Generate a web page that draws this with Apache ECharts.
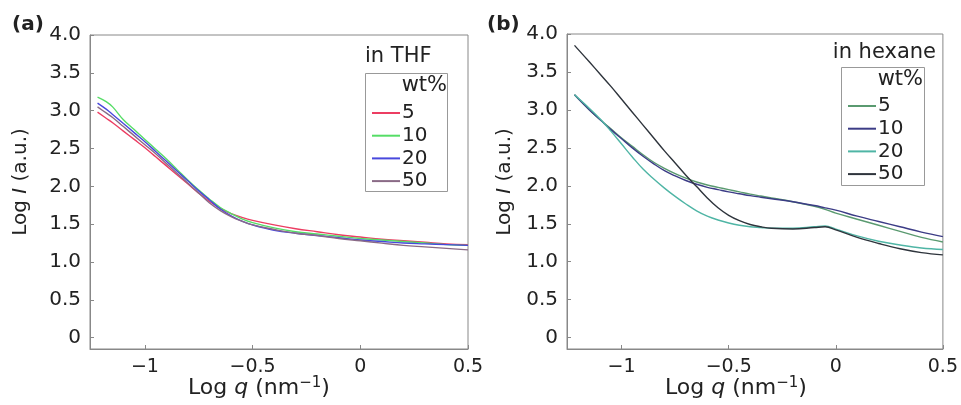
<!DOCTYPE html>
<html>
<head>
<meta charset="utf-8">
<script src="https://cdn.jsdelivr.net/npm/echarts@6/dist/echarts.min.js"></script>
<style>html,body{margin:0;padding:0;background:#fff;}#c{width:961px;height:405px;}</style>
</head>
<body>
<div id="c"></div>
<script>
// ---------- data ----------
const wtLabels = ['5', '10', '20', '50'];
const yTicks = [0, 0.5, 1, 1.5, 2, 2.5, 3, 3.5, 4];
const xTicks = [-1, -0.5, 0, 0.5];

// panel (a): in THF
const xTHF = [-1.22,-1.18,-1.15,-1.1,-1.05,-1.0,-0.95,-0.9,-0.85,-0.8,-0.75,-0.7,-0.65,-0.6,-0.55,-0.5,-0.4,-0.3,-0.2,-0.1,0,0.1,0.2,0.3,0.4,0.5];
const thf5  = [2.98,2.9,2.84,2.73,2.62,2.51,2.39,2.27,2.15,2.03,1.91,1.8,1.71,1.64,1.59,1.55,1.49,1.44,1.4,1.36,1.33,1.3,1.28,1.26,1.24,1.23];
const thf10 = [3.18,3.12,3.05,2.88,2.75,2.62,2.49,2.36,2.22,2.08,1.95,1.83,1.72,1.64,1.57,1.52,1.45,1.4,1.37,1.34,1.31,1.29,1.27,1.25,1.23,1.22];
const thf20 = [3.1,3.02,2.95,2.83,2.71,2.59,2.46,2.33,2.2,2.07,1.94,1.82,1.7,1.61,1.54,1.49,1.42,1.38,1.35,1.32,1.29,1.27,1.25,1.24,1.23,1.22];
const thf50 = [3.05,2.97,2.91,2.79,2.67,2.55,2.43,2.3,2.17,2.04,1.91,1.78,1.68,1.6,1.54,1.49,1.43,1.38,1.35,1.31,1.28,1.25,1.22,1.2,1.18,1.16];

// panel (b): in hexane
const xHex = [-1.22,-1.15,-1.1,-1.05,-1.0,-0.95,-0.9,-0.85,-0.8,-0.75,-0.7,-0.65,-0.6,-0.55,-0.5,-0.45,-0.4,-0.35,-0.3,-0.2,-0.1,-0.05,0,0.1,0.2,0.3,0.4,0.5];
const hex5  = [3.2,3.0,2.87,2.75,2.63,2.52,2.41,2.31,2.23,2.16,2.1,2.05,2.01,1.98,1.95,1.92,1.89,1.865,1.84,1.79,1.73,1.69,1.64,1.56,1.48,1.4,1.32,1.26];
const hex10 = [3.2,3.0,2.87,2.74,2.62,2.5,2.39,2.29,2.2,2.13,2.07,2.02,1.98,1.95,1.92,1.895,1.87,1.85,1.83,1.79,1.74,1.71,1.68,1.6,1.53,1.46,1.39,1.33];
const hex20 = [3.2,3.02,2.88,2.72,2.55,2.38,2.22,2.09,1.97,1.86,1.76,1.67,1.6,1.55,1.51,1.48,1.46,1.45,1.44,1.44,1.46,1.47,1.43,1.34,1.27,1.22,1.18,1.16];
const hex50 = [3.85,3.63,3.47,3.31,3.14,2.97,2.8,2.63,2.46,2.3,2.14,1.99,1.84,1.71,1.61,1.54,1.49,1.46,1.44,1.43,1.45,1.46,1.42,1.32,1.24,1.17,1.12,1.09];

const colorsTHF = ['#ec3d62', '#55dd66', '#4848dd', '#8a6a86'];
const colorsHex = ['#5a9a70', '#3c3c86', '#4fb5a5', '#2e343c'];

// ---------- build ----------
const zip = (xs, ys) => xs.map((x, i) => [x, ys[i]]);
const thfSets = [thf5, thf10, thf20, thf50];
const hexSets = [hex5, hex10, hex20, hex50];

const FONT = 'DejaVu Sans, sans-serif';
const series = [];
thfSets.forEach((ys, i) => series.push({
  name: 'a-' + wtLabels[i], type: 'line', xAxisIndex: 0, yAxisIndex: 0,
  data: zip(xTHF, ys), smooth: 0.4, symbol: 'none',
  lineStyle: { width: 1.4, color: colorsTHF[i] }, itemStyle: { color: colorsTHF[i] }
}));
hexSets.forEach((ys, i) => series.push({
  name: 'b-' + wtLabels[i], type: 'line', xAxisIndex: 1, yAxisIndex: 1,
  data: zip(xHex, ys), smooth: 0.4, symbol: 'none',
  lineStyle: { width: 1.4, color: colorsHex[i] }, itemStyle: { color: colorsHex[i] }
}));

const xFmt = v => (v < 0 ? '\u2212' + String(-v) : String(v));
const yFmt = v => (v === 0 ? '0' : v.toFixed(1));

function xAxisCfg(gi) {
  return {
    type: 'value', gridIndex: gi, min: -1.255, max: 0.5,
    axisLine: { show: true, onZero: false, lineStyle: { color: '#888', width: 1 } },
    axisTick: { show: true, inside: true, length: 4, customValues: xTicks, lineStyle: { color: '#888' } },
    axisLabel: { customValues: xTicks, formatter: xFmt, fontSize: 19, color: '#222', fontFamily: FONT, margin: 9 },
    splitLine: { show: false }
  };
}
function yAxisCfg(gi) {
  return {
    type: 'value', gridIndex: gi, min: -0.15, max: 4,
    axisLine: { show: true, onZero: false, lineStyle: { color: '#888', width: 1 } },
    axisTick: { show: true, inside: true, length: 4, customValues: yTicks, lineStyle: { color: '#888' } },
    axisLabel: { customValues: yTicks, formatter: yFmt, fontSize: 20, color: '#222', fontFamily: FONT, margin: 9 },
    splitLine: { show: false }
  };
}

function legendCfg(prefix, left, top) {
  return {
    data: wtLabels.map(l => prefix + l),
    orient: 'vertical', left: left, top: top,
    icon: 'rect', itemWidth: 28, itemHeight: 2, itemGap: 2.7,
    padding: 0, selectedMode: false,
    formatter: n => n.slice(2),
    textStyle: { fontSize: 20, lineHeight: 20, color: '#222', fontFamily: FONT, padding: [0, 0, 0, -3] }
  };
}

const txt = (x, y, text, extra) => ({ type: 'text', x: x, y: y, style: Object.assign({ text: text, fontSize: 21, fontFamily: FONT, fill: '#222' }, extra || {}) });
const richX = {
  it: { fontStyle: 'italic', fontSize: 22, fontFamily: FONT, fill: '#222' },
  sup: { fontSize: 15, fontFamily: FONT, fill: '#222', verticalAlign: 'top', padding: [0, 0, 9, 0] }
};
const richY = {
  it: { fontStyle: 'italic', fontSize: 20, fontFamily: FONT, fill: '#222' }
};

const graphic = [
  txt(12, 15, '(a)', { fontWeight: 'bold', fontSize: 20 }),
  txt(487, 15, '(b)', { fontWeight: 'bold', fontSize: 20 }),
  // legend titles and boxes
  txt(365, 46, 'in THF'),
  { type: 'rect', shape: { x: 365.5, y: 73.5, width: 82, height: 118 }, style: { fill: 'none', stroke: '#999', lineWidth: 1 } },
  txt(447, 75, 'wt%', { textAlign: 'right' }),
  txt(936, 42, 'in hexane', { textAlign: 'right' }),
  { type: 'rect', shape: { x: 841.5, y: 67.5, width: 83, height: 118 }, style: { fill: 'none', stroke: '#999', lineWidth: 1 } },
  txt(923, 69, 'wt%', { textAlign: 'right' }),
  // axis names
  { type: 'text', x: 188, y: 376, style: { text: 'Log {it|q} (nm{sup|\u22121})', rich: richX, fontSize: 22, fontFamily: FONT, fill: '#222' } },
  { type: 'text', x: 665, y: 376, style: { text: 'Log {it|q} (nm{sup|\u22121})', rich: richX, fontSize: 22, fontFamily: FONT, fill: '#222' } },
  { type: 'text', x: 21, y: 182, rotation: Math.PI / 2, style: { text: 'Log {it|I} (a.u.)', rich: richY, fontSize: 20, fontFamily: FONT, fill: '#222', textAlign: 'center', textVerticalAlign: 'middle' } },
  { type: 'text', x: 505, y: 182, rotation: Math.PI / 2, style: { text: 'Log {it|I} (a.u.)', rich: richY, fontSize: 20, fontFamily: FONT, fill: '#222', textAlign: 'center', textVerticalAlign: 'middle' } }
];

const chart = echarts.init(document.getElementById('c'), null, { renderer: 'canvas' });
chart.setOption({
  animation: false,
  backgroundColor: '#fff',
  grid: [
    { left: 90, top: 35, width: 378, height: 314, show: true, borderColor: '#888', borderWidth: 1 },
    { left: 567, top: 34, width: 377, height: 315, show: true, borderColor: '#888', borderWidth: 1 }
  ],
  xAxis: [xAxisCfg(0), xAxisCfg(1)],
  yAxis: [yAxisCfg(0), yAxisCfg(1)],
  legend: [legendCfg('a-', 372, 103), legendCfg('b-', 848, 96)],
  series: series,
  graphic: graphic
});
</script>
</body>
</html>
